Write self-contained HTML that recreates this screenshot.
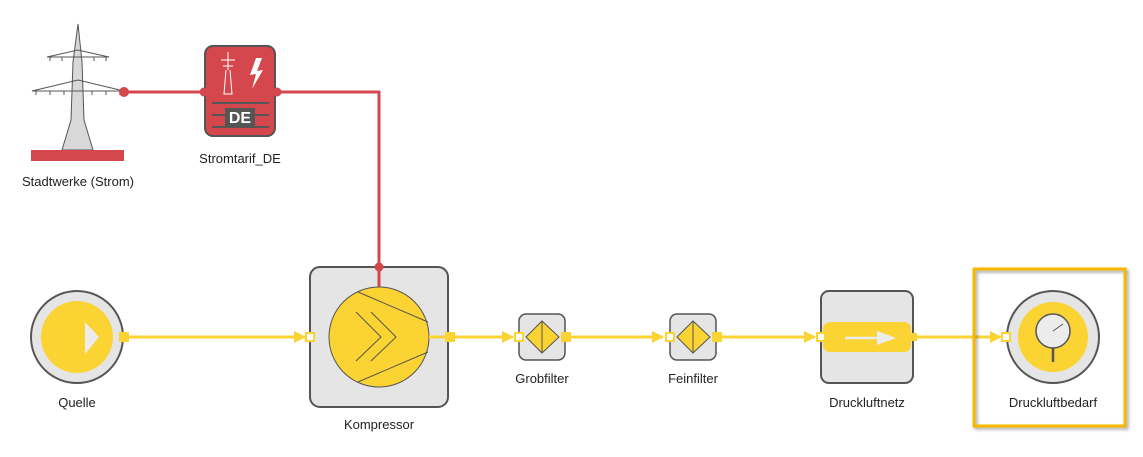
<!DOCTYPE html>
<html><head><meta charset="utf-8"><style>
html,body{margin:0;padding:0;background:#fff;}
svg{display:block;font-family:"Liberation Sans",sans-serif;}
</style></head><body>
<svg width="1143" height="457" viewBox="0 0 1143 457" xmlns="http://www.w3.org/2000/svg">
<defs>
<filter id="sh" x="-10%" y="-10%" width="130%" height="130%"><feDropShadow dx="2" dy="2" stdDeviation="1.5" flood-color="#000" flood-opacity="0.35"/></filter>
</defs>
<g stroke="#d4474d" stroke-width="3" fill="none">
<path d="M124 92 H204"/>
<path d="M277 92 H379 V267"/>
</g>
<!-- tower -->
<g stroke="#555" stroke-width="1" fill="#d8d8d8">
<path d="M78 24 L82 62 L84 120 L93 150 L62 150 L71 120 L73 62 Z"/>
</g>
<g stroke="#555" stroke-width="1" fill="none">
<path d="M47 57 L78 50 L109 57 Z"/>
<path d="M32 91 L78 80 L124 91 Z"/>
<path d="M50 57v4M62 57v4M94 57v4M106 57v4M36 91v4M50 91v4M64 91v4M92 91v4M106 91v4M120 91v4"/>
</g>
<rect x="31" y="150" width="93" height="11" fill="#d4474d"/>
<text x="78" y="186" font-size="13" text-anchor="middle" fill="#222">Stadtwerke (Strom)</text>
<!-- Stromtarif -->
<rect x="205" y="46" width="70" height="90" rx="8" fill="#d4474d" stroke="#555" stroke-width="2"/>
<g stroke="#fff" stroke-width="1" fill="none">
<path d="M228 52 V70 M221 60 H235 M223 66 H233 M226 70 L224 94 H232 L230 70"/>
</g>
<path d="M256 58 L250 75 L256 74 L252 89 L263 70 L257 71 L262 58 Z" fill="#fff"/>
<g stroke="#555" stroke-width="2"><path d="M212 103 H269 M212 115 H269 M212 127 H269"/></g>
<rect x="225" y="108" width="30" height="18" fill="#555"/>
<text x="240" y="123" font-size="16" font-weight="bold" text-anchor="middle" fill="#fff">DE</text>
<text x="240" y="163" font-size="13" text-anchor="middle" fill="#222">Stromtarif_DE</text>
<g fill="#d4474d">
<circle cx="124" cy="92" r="5"/><circle cx="204" cy="92" r="4.5"/><circle cx="277" cy="92" r="4.5"/>
</g>
<!-- yellow flow lines -->
<g stroke="#fbd333" stroke-width="3" fill="none">
<path d="M124 337 H305"/><path d="M450 337 H513"/><path d="M566 337 H663"/><path d="M716 337 H815"/><path d="M913 337 H1000"/>
</g>
<g fill="#fbd333">
<path d="M294 331 L306 337 L294 343 Z"/><path d="M502 331 L514 337 L502 343 Z"/><path d="M652 331 L664 337 L652 343 Z"/><path d="M804 331 L816 337 L804 343 Z"/><path d="M990 331 L1002 337 L990 343 Z"/>
</g>
<!-- Quelle -->
<circle cx="77" cy="337" r="46" fill="#e5e5e5" stroke="#555" stroke-width="2"/>
<circle cx="77" cy="337" r="36" fill="#fbd333"/>
<path d="M85 322 L99 337 L85 354 Z" fill="#ececec"/>
<rect x="119" y="332" width="10" height="10" fill="#fbd333"/>
<text x="77" y="407" font-size="13" text-anchor="middle" fill="#222">Quelle</text>
<!-- Kompressor -->
<rect x="310" y="267" width="138" height="140" rx="10" fill="#e5e5e5" stroke="#555" stroke-width="2"/>
<path d="M379 268 V290" stroke="#d4474d" stroke-width="3"/>
<circle cx="379" cy="267" r="4.5" fill="#d4474d"/>
<circle cx="379" cy="337" r="50" fill="#fbd333" stroke="#555" stroke-width="1"/>
<g stroke="#555" stroke-width="1" fill="none">
<path d="M358 292 L428 322 M358 382 L428 352 M356 312 L381 337 L356 361 M371 312 L396 337 L371 361"/>
</g>
<path d="M429 337 H448" stroke="#fbd333" stroke-width="3"/>
<rect x="306" y="333" width="8" height="8" fill="#fff" stroke="#fbd333" stroke-width="2"/>
<rect x="445" y="332" width="10" height="10" fill="#fbd333"/>
<text x="379" y="429" font-size="13" text-anchor="middle" fill="#222">Kompressor</text>
<!-- filters -->
<g>
<rect x="519" y="314" width="46" height="46" rx="7" fill="#e5e5e5" stroke="#555" stroke-width="1.5"/>
<path d="M526 337 L542 321 L559 337 L542 353 Z" fill="#fbd333" stroke="#555" stroke-width="1"/><path d="M542 321 V353" stroke="#555"/>
<rect x="515" y="333" width="8" height="8" fill="#fff" stroke="#fbd333" stroke-width="2"/>
<rect x="561" y="332" width="10" height="10" fill="#fbd333"/>
<text x="542" y="383" font-size="13" text-anchor="middle" fill="#222">Grobfilter</text>
</g>
<g>
<rect x="670" y="314" width="46" height="46" rx="7" fill="#e5e5e5" stroke="#555" stroke-width="1.5"/>
<path d="M677 337 L693 321 L710 337 L693 353 Z" fill="#fbd333" stroke="#555" stroke-width="1"/><path d="M693 321 V353" stroke="#555"/>
<rect x="666" y="333" width="8" height="8" fill="#fff" stroke="#fbd333" stroke-width="2"/>
<rect x="712" y="332" width="10" height="10" fill="#fbd333"/>
<text x="693" y="383" font-size="13" text-anchor="middle" fill="#222">Feinfilter</text>
</g>
<!-- Druckluftnetz -->
<rect x="821" y="291" width="92" height="92" rx="8" fill="#e5e5e5" stroke="#555" stroke-width="2"/>
<rect x="823" y="322" width="88" height="30" rx="7" fill="#fbd333"/>
<path d="M845 338 H880" stroke="#ececec" stroke-width="2.5"/><path d="M877 331 L896 338 L877 345 Z" fill="#ececec"/>
<rect x="817" y="333" width="8" height="8" fill="#fff" stroke="#fbd333" stroke-width="2"/>
<rect x="911" y="333" width="6" height="8" fill="#fbd333"/>
<text x="867" y="407" font-size="13" text-anchor="middle" fill="#222">Druckluftnetz</text>
<!-- Druckluftbedarf -->
<rect x="974" y="269" width="151" height="157" fill="none" stroke="#f8b800" stroke-width="3" filter="url(#sh)"/>
<circle cx="1053" cy="337" r="46" fill="#e5e5e5" stroke="#555" stroke-width="2"/>
<circle cx="1053" cy="337" r="35" fill="#fbd333"/>
<path d="M1053 336 V362" stroke="#555" stroke-width="2.5"/>
<circle cx="1053" cy="331" r="17" fill="#ececec" stroke="#555" stroke-width="1.5"/>
<path d="M1053 331 L1063 324" stroke="#555" stroke-width="1"/>
<rect x="1002" y="333" width="8" height="8" fill="#fff" stroke="#fbd333" stroke-width="2"/>
<text x="1053" y="407" font-size="13" text-anchor="middle" fill="#222">Druckluftbedarf</text>
</svg>
</body></html>
